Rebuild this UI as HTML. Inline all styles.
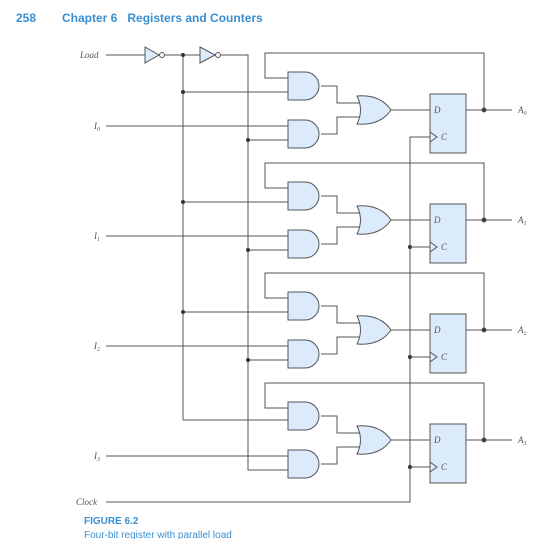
<!DOCTYPE html>
<html><head><meta charset="utf-8"><style>
html,body{margin:0;padding:0;background:#fff;width:548px;height:539px;overflow:hidden}
svg{display:block}
.t{font-family:"Liberation Serif",serif;font-style:italic;fill:#555}
.h{font-family:"Liberation Sans",sans-serif;font-weight:bold;fill:#3a8fd0}
</style></head><body>
<svg width="548" height="539" viewBox="0 0 548 539">
<defs>
<g id="st" stroke="#555" stroke-width="1" fill="none">
  <rect x="430" y="41" width="36" height="59" fill="#dcebfb"/>
  <path d="M484 56 V0 H265 V25 H288"/>
  <path d="M321 33 H337 V50 H360"/>
  <path d="M321 81 H337 V64 H360"/>
  <path d="M391 57 H430"/>
  <path d="M466 57 H512"/>
  <circle cx="484" cy="57" r="2" fill="#333"/>
  <path d="M410 84 H430"/>
  <path d="M430 79 L437 84 L430 89" />
  <path d="M288 19 H305 A14 14 0 0 1 305 47 H288 Z" fill="#dcebfb"/>
  <path d="M288 67 H305 A14 14 0 0 1 305 95 H288 Z" fill="#dcebfb"/>
  <path d="M357 43 Q380 41 391 57 Q380 73 357 71 Q364 57 357 43 Z" fill="#dcebfb"/>
</g>
<g id="lb" class="t" font-size="9">
  <text x="434" y="60">D</text>
  <text x="441" y="87">C</text>
</g>
</defs>
<text class="h" x="16" y="22" font-size="12">258</text>
<text class="h" x="62" y="22" font-size="12">Chapter 6&#160;&#160;&#160;Registers and Counters</text>

<g stroke="#555" stroke-width="1" fill="none">
  <path d="M106 55 H145"/>
  <path d="M145 47 L159 55 L145 63 Z" fill="#dcebfb"/>
  <circle cx="162" cy="55" r="2.5" fill="#fff"/>
  <path d="M164.5 55 H200"/>
  <path d="M200 47 L215 55 L200 63 Z" fill="#dcebfb"/>
  <circle cx="218" cy="55" r="2.5" fill="#fff"/>
  <path d="M220.5 55 H248 V470 H288"/>
  <path d="M183 55 V420"/>
  <path d="M410 137 V502 H106"/>
  <path d="M106 126 H288"/><path d="M106 236 H288"/><path d="M106 346 H288"/><path d="M106 456 H288"/>
  <path d="M183 92 H288"/><path d="M183 202 H288"/><path d="M183 312 H288"/><path d="M183 420 H288"/>
  <path d="M248 140 H288"/><path d="M248 250 H288"/><path d="M248 360 H288"/>
</g>
<g fill="#333">
  <circle cx="183" cy="55" r="2"/>
  <circle cx="183" cy="92" r="2"/><circle cx="183" cy="202" r="2"/><circle cx="183" cy="312" r="2"/>
  <circle cx="248" cy="140" r="2"/><circle cx="248" cy="250" r="2"/><circle cx="248" cy="360" r="2"/>
  <circle cx="410" cy="247" r="2"/><circle cx="410" cy="357" r="2"/><circle cx="410" cy="467" r="2"/>
</g>
<use href="#st" transform="translate(0,53)"/>
<use href="#st" transform="translate(0,163)"/>
<use href="#st" transform="translate(0,273)"/>
<use href="#st" transform="translate(0,383)"/>
<use href="#lb" transform="translate(0,53)"/>
<use href="#lb" transform="translate(0,163)"/>
<use href="#lb" transform="translate(0,273)"/>
<use href="#lb" transform="translate(0,383)"/>

<g class="t" font-size="9">
  <text x="80" y="58">Load</text>
  <text x="94" y="129">I<tspan font-size="6" dy="2">0</tspan></text>
  <text x="94" y="239">I<tspan font-size="6" dy="2">1</tspan></text>
  <text x="94" y="349">I<tspan font-size="6" dy="2">2</tspan></text>
  <text x="94" y="459">I<tspan font-size="6" dy="2">3</tspan></text>
  <text x="76" y="505">Clock</text>
  <text x="518" y="113">A<tspan font-size="6" dy="2">0</tspan></text>
  <text x="518" y="223">A<tspan font-size="6" dy="2">1</tspan></text>
  <text x="518" y="333">A<tspan font-size="6" dy="2">2</tspan></text>
  <text x="518" y="443">A<tspan font-size="6" dy="2">3</tspan></text>
</g>
<text class="h" x="84" y="524" font-size="10">FIGURE 6.2</text>
<text x="84" y="538" font-size="10" font-family="Liberation Sans, sans-serif" fill="#3a8fd0">Four-bit register with parallel load</text>
</svg>
</body></html>
